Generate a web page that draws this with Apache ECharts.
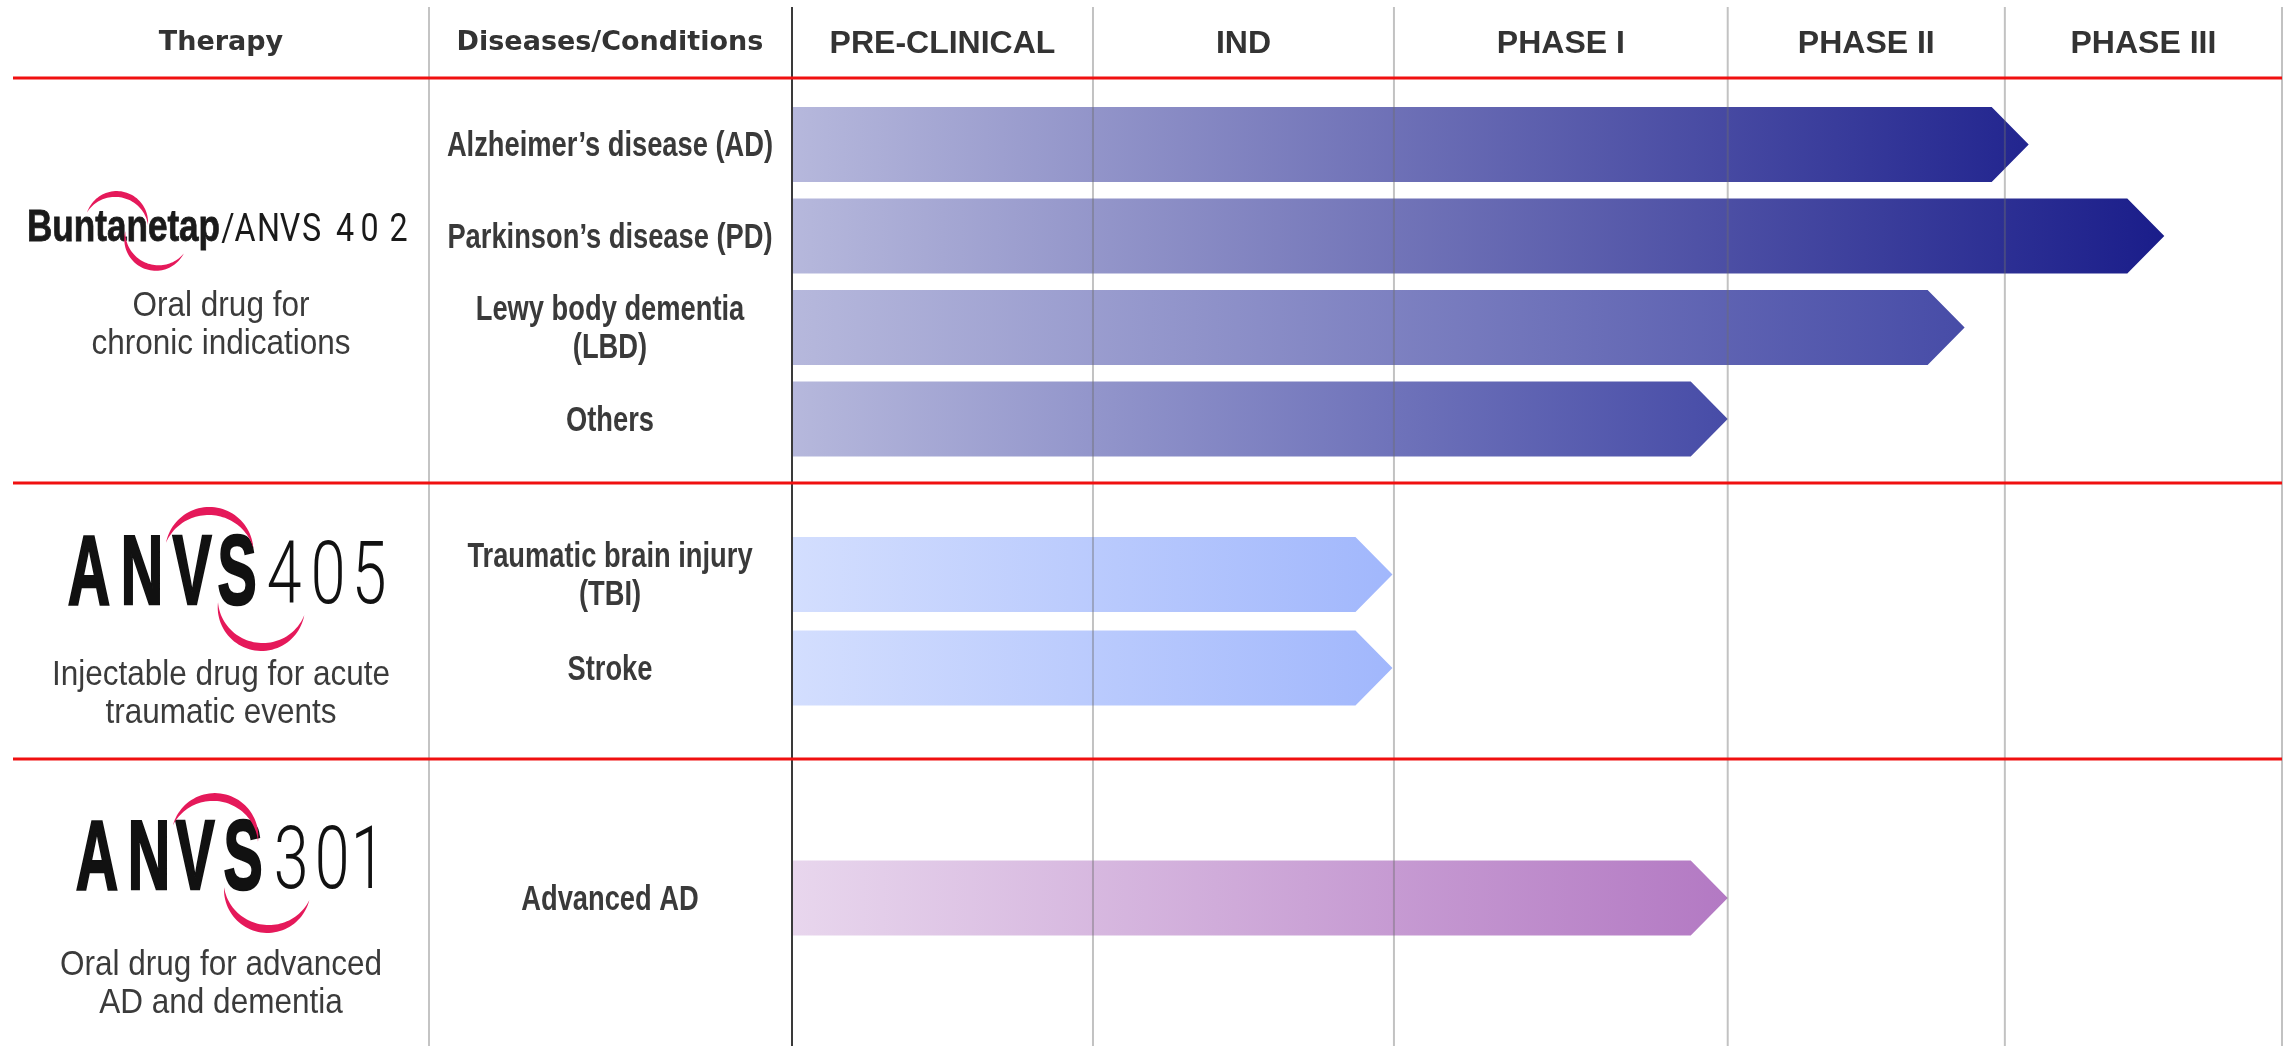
<!DOCTYPE html>
<html>
<head>
<meta charset="utf-8">
<script src="https://cdn.jsdelivr.net/npm/echarts@6/dist/echarts.min.js"></script>
<style>
html,body{margin:0;padding:0;background:#ffffff;}
#chart{width:2290px;height:1046px;}
</style>
</head>
<body>
<div id="chart"></div>
<script>
// ---------------- DATA ----------------
const columnHeaders = ['Therapy', 'Diseases/Conditions'];
const phases = ['PRE-CLINICAL', 'IND', 'PHASE I', 'PHASE II', 'PHASE III'];
// start of each phase column, in % of the pipeline width
const phaseStarts = [0, 20.2, 40.4, 62.8, 81.4];
const phaseEnd = 100;

const group1Diseases = ['Alzheimer’s disease (AD)', 'Parkinson’s disease (PD)', 'Lewy body dementia\n(LBD)', 'Others'];
const group1Progress = [83.0, 92.1, 78.7, 62.8];

const group2Diseases = ['Traumatic brain injury\n(TBI)', 'Stroke'];
const group2Progress = [40.3, 40.3];

const group3Diseases = ['Advanced AD'];
const group3Progress = [62.8];

const therapyNames = ['Buntanetap/ANVS 402', 'ANVS405', 'ANVS301'];
const therapyDescriptions = [
  ['Oral drug for', 'chronic indications'],
  ['Injectable drug for acute', 'traumatic events'],
  ['Oral drug for advanced', 'AD and dementia']
];

// ---------------- STYLE / LAYOUT ----------------
const BAR_H = 75, TIP = 37;
const group1Colors = [
  ['#b6b8dc', '#22258f'],
  ['#b6b8dc', '#1a1d8a'],
  ['#b6b8dc', '#474ca7'],
  ['#b6b8dc', '#474ca7']
];
const group2Colors = [['#d3defe', '#a1b7fc'], ['#d3defe', '#a1b7fc']];
const group3Colors = [['#e8d6ed', '#b379c3']];

const GRID_LEFT = 792, GRID_RIGHT = 8;
const RED = '#f01010';
const CRIMSON = '#e5195a';

function arrowRender(colors) {
  return function (params, api) {
    const v = api.value(0), cat = api.value(1);
    const p0 = api.coord([0, cat]);
    const p1 = api.coord([v, cat]);
    const x0 = p0[0] + 1, x1 = p1[0], yc = p0[1], h = BAR_H;
    const c = colors[params.dataIndex];
    return {
      type: 'polygon',
      shape: { points: [[x0, yc - h / 2], [x1 - TIP, yc - h / 2], [x1, yc], [x1 - TIP, yc + h / 2], [x0, yc + h / 2]] },
      style: {
        fill: new echarts.graphic.LinearGradient(0, 0, 1, 0, [
          { offset: 0, color: c[0] }, { offset: 1, color: c[1] }
        ])
      }
    };
  };
}

function yAxisFor(idx, names) {
  return {
    type: 'category', gridIndex: idx, data: names, inverse: true,
    axisLine: { show: false }, axisTick: { show: false }, splitLine: { show: false },
    axisLabel: { show: false }
  };
}
function xAxisFor(idx) {
  return { type: 'value', gridIndex: idx, min: 0, max: phaseEnd, show: false };
}

const chart = echarts.init(document.getElementById('chart'), null, { renderer: 'canvas' });

const boundaries = phaseStarts.concat([phaseEnd]);

chart.setOption({
  backgroundColor: '#ffffff',
  animation: false,
  grid: [
    { left: GRID_LEFT, right: GRID_RIGHT, top: 98.75, height: 366 },
    { left: GRID_LEFT, right: GRID_RIGHT, top: 527.75, height: 187 },
    { left: GRID_LEFT, right: GRID_RIGHT, top: 852, height: 92 },
    { left: GRID_LEFT, right: GRID_RIGHT, top: 7, bottom: 0 }
  ],
  xAxis: [xAxisFor(0), xAxisFor(1), xAxisFor(2), xAxisFor(3)],
  yAxis: [
    yAxisFor(0, group1Diseases),
    yAxisFor(1, group2Diseases),
    yAxisFor(2, group3Diseases),
    { type: 'value', gridIndex: 3, min: 0, max: 1, show: false }
  ],
  series: [
    { type: 'custom', xAxisIndex: 0, yAxisIndex: 0, z: 2, renderItem: arrowRender(group1Colors),
      data: group1Progress.map((v, i) => [v, i]) },
    { type: 'custom', xAxisIndex: 1, yAxisIndex: 1, z: 2, renderItem: arrowRender(group2Colors),
      data: group2Progress.map((v, i) => [v, i]) },
    { type: 'custom', xAxisIndex: 2, yAxisIndex: 2, z: 2, renderItem: arrowRender(group3Colors),
      data: group3Progress.map((v, i) => [v, i]) },
    { type: 'custom', xAxisIndex: 3, yAxisIndex: 3, z: 5, silent: true,
      data: boundaries.map(v => [v, 0]),
      renderItem: function (params, api) {
        const x = api.coord([api.value(0), 0])[0];
        const top = api.coord([api.value(0), 1])[1];
        const bottom = api.coord([api.value(0), 0])[1];
        const first = params.dataIndex === 0;
        return {
          type: 'line',
          shape: { x1: x, y1: top, x2: x, y2: bottom },
          style: { stroke: first ? '#3a3a3a' : 'rgba(110,110,110,0.42)', lineWidth: 2 }
        };
      }
    }
  ]
});

// ---------- table furniture (graphic) ----------
function txt(text, x, y, size, family, weight, fill, opts) {
  opts = opts || {};
  const st = {
    text: text, x: 0, y: 0, fontSize: size, fontFamily: family, fontWeight: weight,
    fill: fill, align: opts.align || 'center', verticalAlign: 'middle'
  };
  if (opts.lh) st.lineHeight = opts.lh;
  if (opts.stroke) { st.stroke = opts.stroke; st.lineWidth = opts.sw || 1; }
  return { type: 'text', x: x, y: y, scaleX: opts.sx || 1, z: 20, silent: true, style: st };
}
function crescent(cx, cy, r, a1, a2, w) {
  const pts = [], n = 48;
  for (let i = 0; i <= n; i++) {
    const t = i / n, a = (a1 + (a2 - a1) * t) * Math.PI / 180, ww = w * Math.sin(Math.PI * t);
    pts.push([cx + (r + ww / 2) * Math.cos(a), cy + (r + ww / 2) * Math.sin(a)]);
  }
  for (let i = n; i >= 0; i--) {
    const t = i / n, a = (a1 + (a2 - a1) * t) * Math.PI / 180, ww = w * Math.sin(Math.PI * t);
    pts.push([cx + (r - ww / 2) * Math.cos(a), cy + (r - ww / 2) * Math.sin(a)]);
  }
  return { type: 'polygon', z: 21, silent: true, shape: { points: pts }, style: { fill: CRIMSON } };
}
function glyphs(chars, centers, y, size, family, weight, fill, opts) {
  return chars.map((ch, i) => txt(ch, centers[i], y, size, family, weight, fill, opts));
}

const g = [];
// header texts
const HEAD_FONT = "'Liberation Sans', Arial, sans-serif";
g.push(txt(columnHeaders[0], 221, 43, 27, "'DejaVu Sans', sans-serif", 'bold', '#333333'));
g.push(txt(columnHeaders[1], 610, 43, 27, "'DejaVu Sans', sans-serif", 'bold', '#333333'));
phases.forEach((p, i) => {
  const mid = (boundaries[i] + boundaries[i + 1]) / 2;
  const px = chart.convertToPixel({ xAxisIndex: 0 }, mid);
  g.push(txt(p, px, 44, 32, HEAD_FONT, 'bold', '#333333'));
});

// disease labels, placed at each category's position on its axis
const LABEL_FONT = "'Liberation Sans', Arial, sans-serif";
[group1Diseases, group2Diseases, group3Diseases].forEach((names, k) => {
  names.forEach((name, i) => {
    const py = chart.convertToPixel({ yAxisIndex: k }, i);
    g.push(txt(name, 610, py + 2, 35, LABEL_FONT, 'bold', '#3a3a3a', { sx: 0.78, lh: 38 }));
  });
});

// table lines
g.push({ type: 'line', z: 6, silent: true, shape: { x1: 429, y1: 7, x2: 429, y2: 1046 }, style: { stroke: '#c4c4c4', lineWidth: 2 } });
[78, 483, 759].forEach(y => {
  g.push({ type: 'line', z: 7, silent: true, shape: { x1: 13, y1: y, x2: 2282, y2: y }, style: { stroke: RED, lineWidth: 3 } });
});

// therapy 1 : Buntanetap/ANVS 402
const THIN = "Roboto, 'Liberation Sans', sans-serif";
const HEAVY = "'Liberation Sans', Arial, sans-serif";
g.push(txt('Buntanetap', 27, 229, 45, HEAVY, 'bold', '#1a1a1a', { sx: 0.78, align: 'left', stroke: '#1a1a1a', sw: 0.8 }));
g.push(...glyphs(['/', 'A', 'N', 'V', 'S', '4', '0', '2'], [228, 245, 268.5, 290, 311.5, 345, 369.5, 398.5], 231.5, 38, THIN, 'normal', '#1a1a1a', { sx: 0.85 }));
g.push(crescent(116, 226, 32, -155, -2, 6));
g.push(crescent(157, 236, 32, 189, 33, 6));

// therapy 2 : ANVS405
const heavyOpts = { sx: 0.6, stroke: '#111111', sw: 2.5 };
g.push(...glyphs(['A', 'N', 'V', 'S'], [89, 142, 192, 237], 577, 98, HEAVY, 'bold', '#111111', heavyOpts));
g.push(...glyphs(['4', '0', '5'], [284, 328, 369], 581, 87, THIN, 300, '#111111', { sx: 0.72 }));
g.push(crescent(209, 556, 45, -163, -10, 8));
g.push(crescent(262, 603, 44, 181, 16, 8));

// therapy 3 : ANVS301
g.push(...glyphs(['A', 'N', 'V', 'S'], [97, 149, 195, 243], 862, 98, HEAVY, 'bold', '#111111', heavyOpts));
g.push(...glyphs(['3', '0', '1'], [291, 332, 368], 866, 87, THIN, 300, '#111111', { sx: 0.72 }));
g.push(crescent(214, 841, 44, -159, 1, 8));
g.push(crescent(268, 885, 44, 177, 20, 8));

// descriptions
const DESC_FONT = "'Liberation Sans', Arial, sans-serif";
const descY = [[306, 344], [675, 713], [965, 1003]];
therapyDescriptions.forEach((lines, i) => {
  lines.forEach((l, j) => g.push(txt(l, 221, descY[i][j], 35, DESC_FONT, 'normal', '#3b3b3b', { sx: 0.9 })));
});

chart.setOption({ graphic: { elements: g } });
</script>
</body>
</html>
